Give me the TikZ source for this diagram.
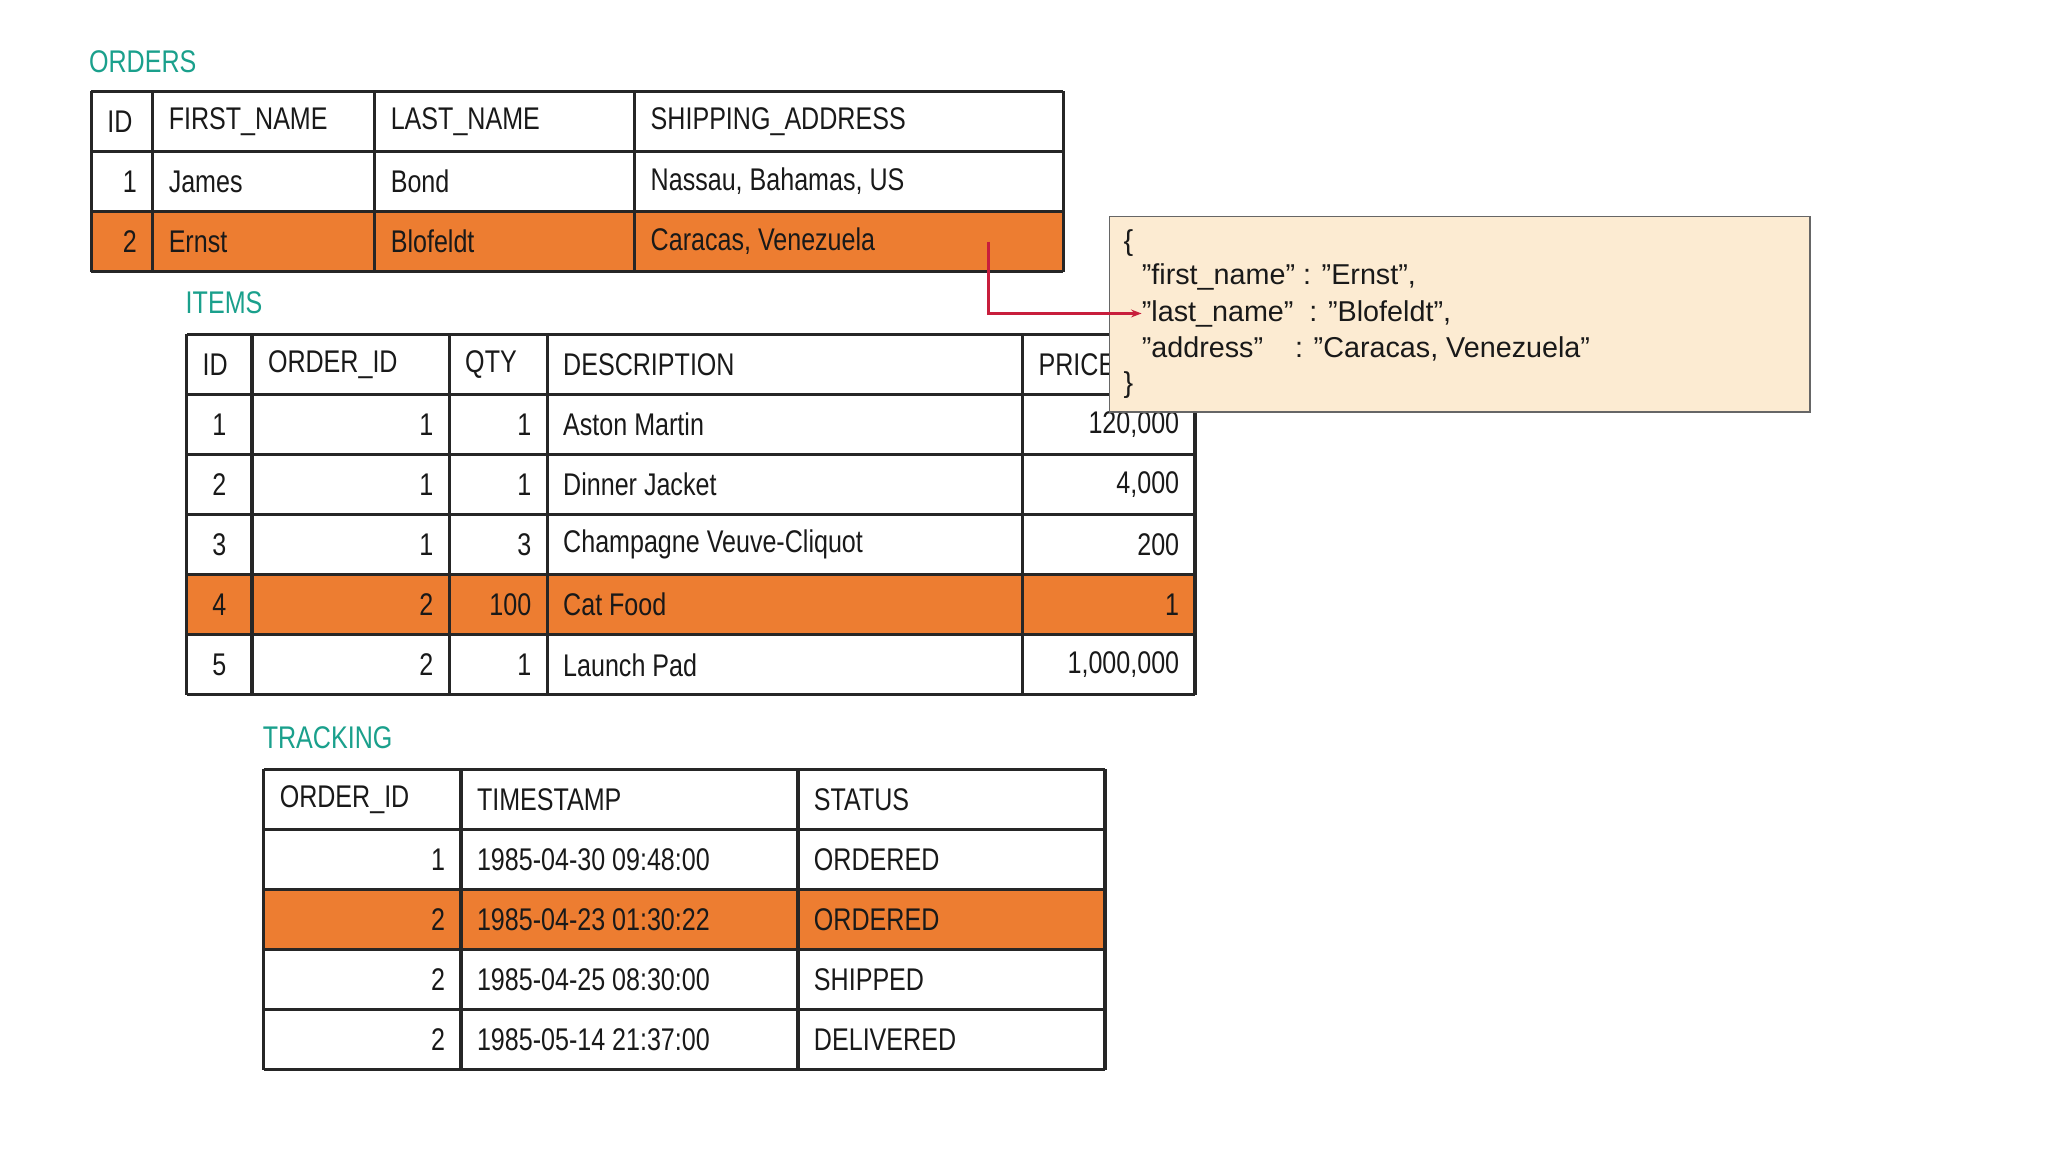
\documentclass[tikz,border=0pt]{standalone}
\usepackage{fontspec}
\setmainfont{Liberation Sans}
\newfontfamily\cond[FakeStretch=0.8]{Liberation Sans}
\usetikzlibrary{arrows.meta}
\definecolor{teal1}{RGB}{26,160,140}
\definecolor{org}{RGB}{237,125,49}
\definecolor{jbg}{RGB}{252,235,210}
\definecolor{arr}{RGB}{200,30,60}
\tikzset{
 grid/.style={line width=2.5pt,draw=black!85},
 lbl/.style={text=teal1,font=\cond\fontsize{24}{28}\selectfont,anchor=west,inner sep=0},
 cell/.style={font=\cond\fontsize{24}{28}\selectfont,inner sep=0,text=black!90},
 json/.style={font=\fontsize{22}{26}\selectfont,anchor=west,inner sep=0,text=black!90}
}
\newcommand\cellL[4]{\node[cell,anchor=west] (#1) at (#2+12,#3) {#4};}
\newcommand\cellR[4]{\node[cell,anchor=east] (#1) at (#2-12,#3) {#4};}
\newcommand\cellC[4]{\node[cell] (#1) at (#2,#3) {#4};}
\begin{document}
\begin{tikzpicture}[x=1pt,y=-1pt]
\useasboundingbox[fill=white] (0,0) rectangle (1568,882);
% ORDERS
\node[lbl] (ordl) at (68,47) {ORDERS};
\fill[org] (70,162) rectangle (814,208);
\foreach \y in {70,116,162,208} \draw[grid] (70,\y) -- (814,\y);
\foreach \x in {70,117,287,486,814} \draw[grid] (\x,70) -- (\x,208);
\cellL{o01}{70}{93}{ID}\cellL{o02}{117}{93}{FIRST\_NAME}\cellL{o03}{287}{93}{LAST\_NAME}\cellL{o04}{486}{93}{SHIPPING\_ADDRESS}
\cellR{o11}{117}{139}{1}\cellL{o12}{117}{139}{James}\cellL{o13}{287}{139}{Bond}\cellL{o14}{486}{139}{Nassau, Bahamas, US}
\cellR{o21}{117}{185}{2}\cellL{o22}{117}{185}{Ernst}\cellL{o23}{287}{185}{Blofeldt}\cellL{o24}{486}{185}{Caracas, Venezuela}
% ITEMS
\node[lbl] (itl) at (142,232) {ITEMS};
\fill[org] (143,440) rectangle (915,486);
\foreach \y in {256,302,348,394,440,486,532} \draw[grid] (143,\y) -- (915,\y);
\foreach \x in {143,193,344,419,783,915} \draw[grid] (\x,256) -- (\x,532);
\cellL{i01}{143}{279}{ID}\cellL{i02}{193}{279}{ORDER\_ID}\cellL{i03}{344}{279}{QTY}\cellL{i04}{419}{279}{DESCRIPTION}\cellL{i05}{783}{279}{PRICE}
\foreach \n/\y/\a/\b/\c/\d in {1/325/1/1/Aston Martin/{120,000},2/371/1/1/Dinner Jacket/{4,000},3/417/1/3/Champagne Veuve-Cliquot/200,4/463/2/100/Cat Food/1,5/509/2/1/Launch Pad/{1,000,000}}{
 \cellC{i\n1}{168}{\y}{\n}\cellR{i\n2}{344}{\y}{\a}\cellR{i\n3}{419}{\y}{\b}\cellL{i\n4}{419}{\y}{\c}\cellR{i\n5}{915}{\y}{\d}}
% TRACKING
\node[lbl] (trl) at (201,565) {TRACKING};
\fill[org] (202,681) rectangle (846,727);
\foreach \y in {589,635,681,727,773,819} \draw[grid] (202,\y) -- (846,\y);
\foreach \x in {202,353,611,846} \draw[grid] (\x,589) -- (\x,819);
\cellL{t01}{202}{612}{ORDER\_ID}\cellL{t02}{353}{612}{TIMESTAMP}\cellL{t03}{611}{612}{STATUS}
\foreach \n/\y/\a/\b/\c in {1/658/1/1985-04-30 09:48:00/ORDERED,2/704/2/1985-04-23 01:30:22/ORDERED,3/750/2/1985-04-25 08:30:00/SHIPPED,4/796/2/1985-05-14 21:37:00/DELIVERED}{
 \cellR{t\n1}{353}{\y}{\a}\cellL{t\n2}{353}{\y}{\b}\cellL{t\n3}{611}{\y}{\c}}
% JSON
\node[draw=black!60,line width=1.2pt,fill=jbg,minimum width=536pt,minimum height=150pt,anchor=north west,inner sep=0] (jbox) at (849,165) {};
\node[json] (j1) at (860,186) {\{};
\node[json] (j2) at (874,212) {"first\_name" : "Ernst",};
\node[json] (j3) at (874,240) {"last\_name"\ \ : "Blofeldt",};
\node[json] (j4) at (874,267) {"address"\ \ \ \ : "Caracas, Venezuela"};
\node[json] (j5) at (860,295) {\}};
\coordinate (as) at (757,185);
\draw[arr,line width=2pt,-{Stealth[length=8pt]}] (as) |- (j3.west);
\end{tikzpicture}
\end{document}
